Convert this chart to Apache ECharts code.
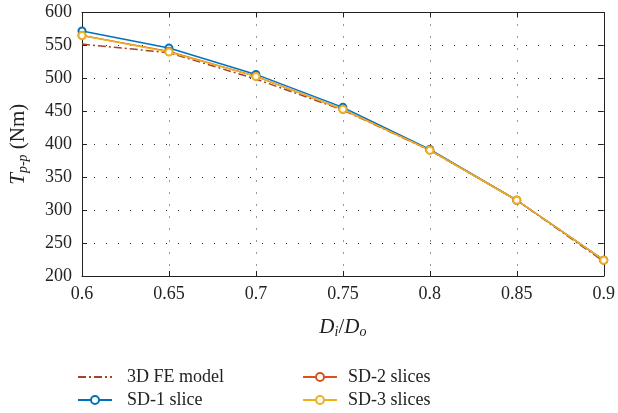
<!DOCTYPE html>
<html>
<head>
<meta charset="utf-8">
<script src="https://cdn.jsdelivr.net/npm/echarts@6/dist/echarts.min.js"></script>
<style>
  html, body { margin: 0; padding: 0; background: #fff; }
  #chart { width: 618px; height: 413px; }
</style>
</head>
<body>
<div id="chart"></div>
<script>
// Diameter ratio Di/Do and peak-to-peak torque (Nm) per model
const ratios = [0.6, 0.65, 0.7, 0.75, 0.8, 0.85, 0.9];
const fe3d   = [552, 539, 499, 452, 391, 315, 222];
const sd1    = [572, 546, 506, 456, 392, 315, 224];
const sd2    = [565, 541, 503, 453, 391, 315, 224];
const sd3    = [565, 540, 503, 453, 391, 315, 224];

const xTicks = { min: 0.6, max: 0.9, step: 0.05 };
const yTicks = { min: 200, max: 600, step: 50 };

const FONT = '"Liberation Serif", "DejaVu Serif", serif';
const INK = '#222';

const pairs = vals => ratios.map((r, i) => [r, vals[i]]);

const chart = echarts.init(document.getElementById('chart'), null, { renderer: 'canvas' });

const dotted = { color: '#333', width: 1, type: [1, 11] };

function frameAxis(base) {
  return Object.assign({
    axisLine: { show: true, onZero: false, lineStyle: { color: INK, width: 1 } },
    axisTick: { show: true, inside: true, length: 5, lineStyle: { color: INK } },
    axisLabel: { show: false },
    splitLine: { show: false }
  }, base);
}

// one legend block per entry, laid out as two columns of two rows
function legendEntry(name, left, top, gap, extra) {
  return {
    left: left, top: top, orient: 'horizontal',
    itemWidth: 34, itemHeight: 10,
    textStyle: { fontFamily: FONT, fontSize: 18, color: INK, padding: [0, 0, 0, gap] },
    data: [Object.assign({ name: name }, extra || {})]
  };
}

chart.setOption({
  animation: false,
  backgroundColor: '#fff',
  grid: { left: 81, right: 11, top: 12.5, bottom: 137, containLabel: false },
  xAxis: [
    {
      type: 'value', min: xTicks.min, max: xTicks.max, interval: xTicks.step,
      position: 'bottom',
      axisLine: { show: true, onZero: false, lineStyle: { color: INK, width: 1 } },
      axisTick: { show: true, inside: true, length: 5, lineStyle: { color: INK } },
      axisLabel: {
        color: INK, fontFamily: FONT, fontSize: 18, margin: 9,
        formatter: v => String(+v.toFixed(2))
      },
      splitLine: { show: true, lineStyle: dotted },
      name: '{i|D}{s|i}{n|/}{i|D}{s|o}',
      nameLocation: 'middle', nameGap: 40,
      nameTextStyle: {
        rich: {
          i: { fontFamily: FONT, fontStyle: 'italic', fontSize: 21, color: INK },
          s: { fontFamily: FONT, fontStyle: 'italic', fontSize: 14, color: INK, padding: [9, 0, 0, 0] },
          n: { fontFamily: FONT, fontSize: 21, color: INK }
        }
      }
    },
    frameAxis({ type: 'value', min: xTicks.min, max: xTicks.max, interval: xTicks.step, position: 'top' })
  ],
  yAxis: [
    {
      type: 'value', min: yTicks.min, max: yTicks.max, interval: yTicks.step,
      position: 'left',
      axisLine: { show: true, onZero: false, lineStyle: { color: INK, width: 1 } },
      axisTick: { show: true, inside: true, length: 5, lineStyle: { color: INK } },
      axisLabel: { color: INK, fontFamily: FONT, fontSize: 18, margin: 10 },
      splitLine: { show: true, lineStyle: dotted },
      name: '{i|T}{s|p-p}{n| (Nm)}',
      nameLocation: 'middle', nameRotate: 90, nameGap: 52,
      nameTextStyle: {
        rich: {
          i: { fontFamily: FONT, fontStyle: 'italic', fontSize: 21, color: INK },
          s: { fontFamily: FONT, fontStyle: 'italic', fontSize: 14, color: INK, padding: [9, 0, 0, 0] },
          n: { fontFamily: FONT, fontSize: 21, color: INK }
        }
      }
    },
    frameAxis({ type: 'value', min: yTicks.min, max: yTicks.max, interval: yTicks.step, position: 'right' })
  ],
  legend: [
    legendEntry('3D FE model', 72, 363, 10, { itemStyle: { opacity: 0 } }),
    legendEntry('SD-1 slice', 72, 386, 10),
    legendEntry('SD-2 slices', 297, 363, 6),
    legendEntry('SD-3 slices', 297, 386, 6)
  ],
  series: [
    {
      name: '3D FE model', type: 'line', data: pairs(fe3d),
      showSymbol: false, symbol: 'none',
      lineStyle: { color: '#A5432A', width: 1.5, type: [8, 3, 2, 3] },
      itemStyle: { color: '#A5432A' }
    },
    {
      name: 'SD-1 slice', type: 'line', data: pairs(sd1),
      symbol: 'emptyCircle', symbolSize: 7,
      lineStyle: { color: '#0072BD', width: 1.5 },
      itemStyle: { color: '#0072BD', borderWidth: 1.2 }
    },
    {
      name: 'SD-2 slices', type: 'line', data: pairs(sd2),
      symbol: 'emptyCircle', symbolSize: 7,
      lineStyle: { color: '#D95319', width: 1.5 },
      itemStyle: { color: '#D95319', borderWidth: 1.2 }
    },
    {
      name: 'SD-3 slices', type: 'line', data: pairs(sd3),
      symbol: 'emptyCircle', symbolSize: 7,
      lineStyle: { color: '#EDB120', width: 1.5 },
      itemStyle: { color: '#EDB120', borderWidth: 1.2 }
    }
  ]
});
</script>
</body>
</html>
